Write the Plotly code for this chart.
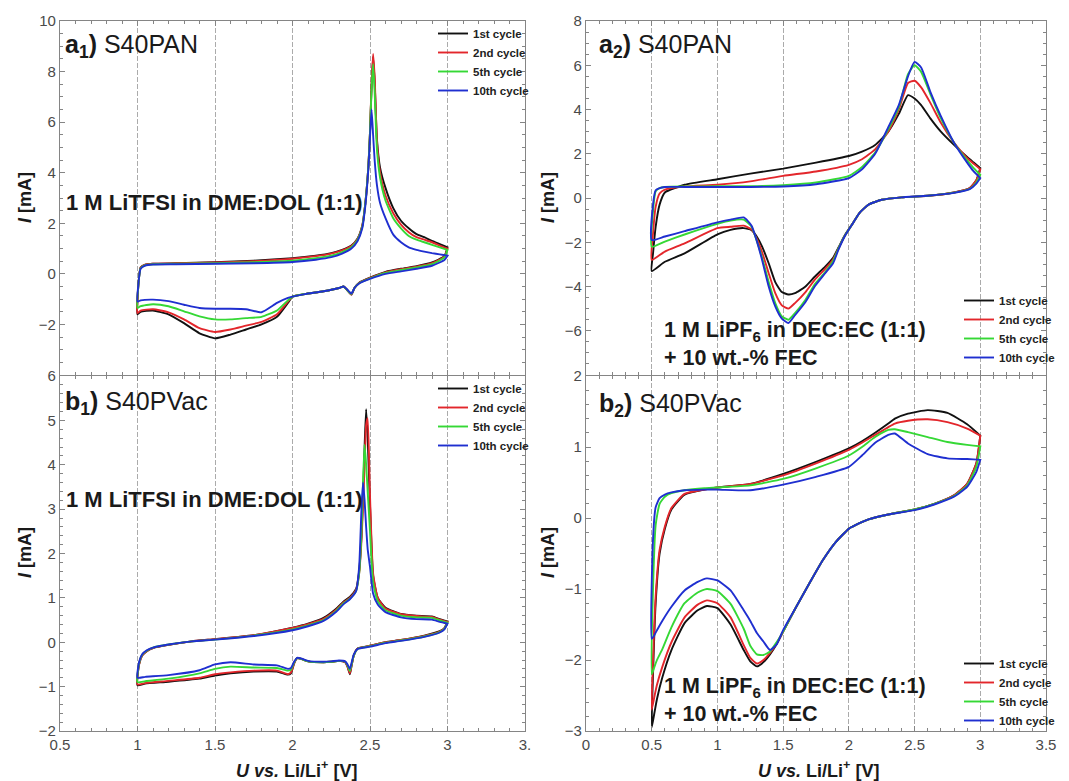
import plotly.graph_objects as go
from plotly.subplots import make_subplots

cycles = ["1st cycle", "2nd cycle", "5th cycle", "10th cycle"]
colors = ["#111111", "#e3262b", "#35d835", "#1f2fd0"]

# a1) S40PAN in 1 M LiTFSI / DME:DOL -- anodic sweep (1.0 -> 3.0 V)
a1_u_up = [1.0, 1.005, 1.02, 1.05, 1.1, 1.25, 1.5, 1.75, 2.0, 2.15, 2.25, 2.32, 2.38, 2.42, 2.45, 2.47,
           2.49, 2.5, 2.51, 2.52, 2.53, 2.545, 2.565, 2.6, 2.65, 2.7, 2.75, 2.8, 2.85, 2.9, 2.95, 3.0]
a1_up_1 = [-1.6, -0.5, 0.25, 0.36, 0.4, 0.42, 0.46, 0.52, 0.62, 0.72, 0.82, 0.95, 1.12, 1.4, 1.9, 2.8,
           4.3, 5.6, 7.4, 8.6, 7.6, 5.3, 4.2, 3.4, 2.6, 2.1, 1.8, 1.57, 1.45, 1.3, 1.18, 1.05]
a1_up_2 = [-1.55, -0.5, 0.25, 0.36, 0.4, 0.42, 0.45, 0.5, 0.6, 0.7, 0.8, 0.93, 1.1, 1.38, 1.9, 2.8,
           4.3, 5.6, 7.5, 8.7, 7.8, 5.2, 4.0, 3.1, 2.4, 1.95, 1.65, 1.45, 1.35, 1.25, 1.12, 1.0]
a1_up_5 = [-1.35, -0.5, 0.22, 0.34, 0.38, 0.4, 0.42, 0.46, 0.52, 0.62, 0.72, 0.86, 1.05, 1.35, 1.85, 2.8,
           4.3, 5.6, 7.3, 8.3, 7.2, 4.9, 3.8, 2.9, 2.2, 1.8, 1.5, 1.35, 1.25, 1.15, 1.05, 0.95]
a1_up_10 = [-1.1, -0.45, 0.2, 0.33, 0.37, 0.38, 0.4, 0.42, 0.47, 0.56, 0.66, 0.8, 1.0, 1.3, 1.8, 2.7,
            4.2, 5.4, 6.5, 5.5, 4.5, 3.5, 2.8, 2.2, 1.55, 1.25, 1.05, 0.95, 0.88, 0.82, 0.77, 0.72]
# cathodic sweep (3.0 -> 1.0 V)
a1_u_dn = [3.0, 2.98, 2.9, 2.8, 2.7, 2.6, 2.5, 2.43, 2.4, 2.38, 2.35, 2.33, 2.3, 2.2, 2.08, 2.0, 1.97,
           1.9, 1.8, 1.7, 1.6, 1.5, 1.4, 1.3, 1.2, 1.1, 1.02, 1.0]
a1_dn_1 = [1.05, 0.7, 0.45, 0.3, 0.2, 0.08, -0.15, -0.35, -0.55, -0.82, -0.62, -0.5, -0.56, -0.69, -0.8,
           -0.9, -1.15, -1.7, -2.0, -2.2, -2.4, -2.55, -2.35, -1.95, -1.6, -1.45, -1.5, -1.6]
a1_dn_2 = [1.0, 0.68, 0.42, 0.28, 0.18, 0.06, -0.16, -0.36, -0.56, -0.82, -0.62, -0.5, -0.56, -0.69, -0.8,
           -0.9, -1.1, -1.6, -1.9, -2.05, -2.2, -2.3, -2.15, -1.8, -1.52, -1.4, -1.45, -1.55]
a1_dn_5 = [0.95, 0.65, 0.38, 0.25, 0.15, 0.04, -0.18, -0.37, -0.56, -0.8, -0.62, -0.5, -0.56, -0.69, -0.8,
           -0.9, -1.05, -1.45, -1.7, -1.75, -1.8, -1.8, -1.68, -1.48, -1.28, -1.2, -1.28, -1.35]
a1_dn_10 = [0.72, 0.55, 0.32, 0.2, 0.1, 0.0, -0.2, -0.38, -0.56, -0.78, -0.6, -0.5, -0.56, -0.69, -0.8,
            -0.9, -0.95, -1.15, -1.52, -1.4, -1.38, -1.38, -1.35, -1.22, -1.08, -1.02, -1.05, -1.1]

# a2) S40PAN in 1 M LiPF6 / DEC:EC + FEC
a2_u_up = [0.5, 0.51, 0.53, 0.56, 0.6, 0.75, 1.0, 1.25, 1.5, 1.75, 2.0, 2.1, 2.2, 2.3, 2.38, 2.45, 2.5,
           2.55, 2.62, 2.7, 2.8, 2.9, 2.95, 3.0]
a2_up_1 = [-3.3, -2.5, -1.3, -0.3, 0.25, 0.6, 0.85, 1.1, 1.33, 1.6, 1.9, 2.1, 2.4, 3.0, 3.8, 4.65, 4.5,
           4.2, 3.6, 3.0, 2.4, 1.85, 1.6, 1.35]
a2_up_2 = [-2.8, -1.6, -0.4, 0.2, 0.38, 0.52, 0.6, 0.75, 1.0, 1.2, 1.5, 1.75, 2.2, 3.0, 4.0, 5.2, 5.3,
           5.0, 4.3, 3.4, 2.5, 1.8, 1.55, 1.3]
a2_up_5 = [-2.2, -0.6, 0.3, 0.45, 0.5, 0.52, 0.53, 0.53, 0.58, 0.7, 1.0, 1.4, 2.05, 3.1, 4.1, 5.6, 6.0,
           5.7, 4.7, 3.6, 2.5, 1.7, 1.35, 1.05]
a2_up_10 = [-1.9, -0.3, 0.35, 0.45, 0.5, 0.5, 0.5, 0.5, 0.52, 0.62, 0.9, 1.3, 2.0, 3.2, 4.2, 5.5, 6.15,
            5.9, 4.8, 3.7, 2.5, 1.6, 1.2, 0.9]
a2_u_dn = [3.0, 2.97, 2.92, 2.8, 2.6, 2.4, 2.25, 2.15, 2.08, 2.03, 1.97, 1.92, 1.88, 1.82, 1.74, 1.67,
           1.59, 1.54, 1.49, 1.44, 1.39, 1.34, 1.3, 1.26, 1.2, 1.1, 1.0, 0.75, 0.6, 0.5]
a2_dn_1 = [1.35, 0.8, 0.45, 0.25, 0.1, 0.03, -0.08, -0.3, -0.68, -1.14, -1.67, -2.25, -2.7, -3.1, -3.56,
           -4.0, -4.3, -4.36, -4.25, -3.8, -2.95, -2.2, -1.75, -1.45, -1.36, -1.44, -1.64, -2.5, -2.88, -3.3]
a2_dn_2 = [1.3, 0.8, 0.45, 0.25, 0.1, 0.03, -0.08, -0.3, -0.68, -1.15, -1.7, -2.3, -2.78, -3.2, -3.7,
           -4.25, -4.75, -5.0, -4.85, -4.3, -3.4, -2.45, -1.85, -1.42, -1.25, -1.3, -1.36, -2.05, -2.42, -2.8]
a2_dn_5 = [1.05, 0.7, 0.42, 0.24, 0.1, 0.03, -0.08, -0.3, -0.68, -1.15, -1.7, -2.3, -2.85, -3.35, -3.9,
           -4.6, -5.2, -5.5, -5.35, -4.75, -3.8, -2.7, -1.95, -1.3, -0.98, -1.02, -1.17, -1.65, -1.97, -2.2]
a2_dn_10 = [0.9, 0.65, 0.4, 0.23, 0.1, 0.03, -0.08, -0.3, -0.68, -1.15, -1.72, -2.35, -2.95, -3.4, -4.0,
            -4.7, -5.3, -5.65, -5.45, -4.9, -4.0, -2.8, -1.95, -1.25, -0.88, -0.98, -1.1, -1.5, -1.74, -1.9]

# b1) S40PVac in 1 M LiTFSI / DME:DOL
b1_u_up = [1.0, 1.01, 1.03, 1.06, 1.1, 1.2, 1.35, 1.5, 1.75, 2.0, 2.1, 2.2, 2.28, 2.33, 2.37, 2.41, 2.43,
           2.445, 2.455, 2.465, 2.475, 2.485, 2.5, 2.52, 2.55, 2.6, 2.7, 2.8, 2.9, 2.95, 3.0]
b1_up_1 = [-0.97, -0.5, -0.3, -0.2, -0.13, -0.06, 0.02, 0.07, 0.16, 0.33, 0.42, 0.55, 0.75, 0.92, 1.02,
           1.2, 1.6, 2.4, 3.3, 4.4, 5.25, 4.6, 3.1, 1.5, 1.0, 0.78, 0.64, 0.6, 0.58, 0.52, 0.47]
b1_up_2 = [-0.95, -0.5, -0.3, -0.2, -0.13, -0.06, 0.02, 0.07, 0.16, 0.32, 0.41, 0.53, 0.73, 0.9, 1.0,
           1.18, 1.55, 2.3, 3.1, 4.0, 4.9, 5.05, 3.3, 1.55, 1.0, 0.76, 0.63, 0.59, 0.57, 0.51, 0.46]
b1_up_5 = [-0.9, -0.48, -0.28, -0.19, -0.12, -0.05, 0.02, 0.06, 0.15, 0.29, 0.38, 0.5, 0.7, 0.88, 0.98,
           1.15, 1.55, 2.5, 3.6, 4.45, 4.0, 3.4, 2.5, 1.35, 0.92, 0.72, 0.6, 0.56, 0.55, 0.49, 0.44]
b1_up_10 = [-0.8, -0.45, -0.27, -0.18, -0.12, -0.05, 0.02, 0.06, 0.14, 0.27, 0.36, 0.48, 0.68, 0.86, 0.97,
            1.15, 1.7, 3.0, 3.6, 3.2, 2.6, 2.1, 1.7, 1.1, 0.85, 0.68, 0.56, 0.52, 0.51, 0.46, 0.42]
b1_u_dn = [3.0, 2.98, 2.95, 2.85, 2.7, 2.6, 2.5, 2.42, 2.395, 2.38, 2.37, 2.355, 2.34, 2.3, 2.25, 2.2,
           2.1, 2.05, 2.03, 2.01, 1.99, 1.97, 1.9, 1.75, 1.6, 1.5, 1.4, 1.2, 1.05, 1.0]
b1_dn_1 = [0.47, 0.32, 0.25, 0.15, 0.05, 0.0, -0.08, -0.14, -0.3, -0.55, -0.72, -0.55, -0.45, -0.42, -0.44,
           -0.45, -0.43, -0.37, -0.36, -0.48, -0.7, -0.73, -0.66, -0.66, -0.7, -0.75, -0.82, -0.89, -0.93, -0.97]
b1_dn_2 = [0.46, 0.31, 0.24, 0.14, 0.05, 0.0, -0.08, -0.14, -0.3, -0.55, -0.7, -0.55, -0.45, -0.42, -0.44,
           -0.45, -0.43, -0.37, -0.36, -0.48, -0.68, -0.72, -0.64, -0.64, -0.68, -0.72, -0.8, -0.87, -0.92, -0.95]
b1_dn_5 = [0.44, 0.3, 0.23, 0.13, 0.04, -0.01, -0.09, -0.15, -0.3, -0.52, -0.65, -0.52, -0.44, -0.42, -0.44,
           -0.45, -0.43, -0.37, -0.36, -0.46, -0.62, -0.64, -0.58, -0.57, -0.55, -0.6, -0.7, -0.82, -0.88, -0.9]
b1_dn_10 = [0.42, 0.29, 0.22, 0.12, 0.03, -0.02, -0.1, -0.15, -0.28, -0.48, -0.6, -0.5, -0.43, -0.41, -0.43,
            -0.44, -0.42, -0.36, -0.35, -0.44, -0.58, -0.6, -0.52, -0.5, -0.45, -0.5, -0.63, -0.74, -0.78, -0.8]

# b2) S40PVac in 1 M LiPF6 / DEC:EC + FEC
b2_u_up = [0.5, 0.51, 0.53, 0.56, 0.6, 0.65, 0.75, 0.9, 1.0, 1.25, 1.5, 1.75, 2.0, 2.1, 2.2, 2.3, 2.35,
           2.45, 2.6, 2.75, 2.9, 3.0]
b2_up_1 = [-2.95, -2.2, -1.2, -0.5, -0.15, 0.12, 0.33, 0.4, 0.43, 0.48, 0.62, 0.79, 0.98, 1.08, 1.2, 1.33,
           1.4, 1.47, 1.52, 1.48, 1.32, 1.16]
b2_up_2 = [-2.7, -2.0, -1.1, -0.45, -0.12, 0.14, 0.34, 0.4, 0.43, 0.48, 0.6, 0.77, 0.96, 1.06, 1.17, 1.28,
           1.33, 1.37, 1.39, 1.35, 1.26, 1.16]
b2_up_5 = [-2.2, -1.0, -0.1, 0.2, 0.3, 0.35, 0.39, 0.42, 0.43, 0.46, 0.55, 0.7, 0.88, 1.0, 1.14, 1.24,
           1.25, 1.21, 1.14, 1.07, 1.03, 1.01]
b2_up_10 = [-1.7, -0.3, 0.15, 0.28, 0.33, 0.36, 0.39, 0.4, 0.4, 0.39, 0.47, 0.58, 0.72, 0.88, 1.06, 1.17,
            1.19, 1.05, 0.9, 0.84, 0.83, 0.82]
b2_u_dn = [3.0, 2.97, 2.9, 2.8, 2.65, 2.5, 2.3, 2.15, 2.05, 2.0, 1.9, 1.8, 1.7, 1.6, 1.5, 1.45, 1.4, 1.35,
           1.3, 1.25, 1.2, 1.1, 1.0, 0.92, 0.85, 0.75, 0.65, 0.58, 0.54, 0.52, 0.5]
b2_dn_1 = [1.16, 0.77, 0.48, 0.32, 0.2, 0.12, 0.05, -0.02, -0.1, -0.15, -0.34, -0.6, -0.92, -1.25, -1.6,
           -1.78, -1.92, -2.03, -2.09, -2.02, -1.86, -1.5, -1.27, -1.24, -1.3, -1.48, -1.86, -2.25, -2.55,
           -2.75, -2.95]
b2_dn_2 = [1.16, 0.77, 0.48, 0.32, 0.2, 0.12, 0.05, -0.02, -0.1, -0.15, -0.34, -0.6, -0.92, -1.25, -1.6,
           -1.77, -1.9, -2.0, -2.05, -1.97, -1.79, -1.4, -1.2, -1.16, -1.22, -1.4, -1.75, -2.1, -2.35,
           -2.52, -2.7]
b2_dn_5 = [1.01, 0.72, 0.46, 0.31, 0.2, 0.12, 0.05, -0.02, -0.1, -0.15, -0.34, -0.6, -0.92, -1.25, -1.6,
           -1.75, -1.88, -1.93, -1.92, -1.8, -1.56, -1.21, -1.03, -1.0, -1.05, -1.2, -1.54, -1.85, -2.0,
           -2.1, -2.2]
b2_dn_10 = [0.82, 0.65, 0.44, 0.3, 0.19, 0.11, 0.05, -0.02, -0.1, -0.15, -0.34, -0.6, -0.92, -1.25, -1.58,
            -1.78, -1.86, -1.74, -1.62, -1.45, -1.3, -1.02, -0.88, -0.85, -0.9, -1.02, -1.25, -1.45, -1.58,
            -1.65, -1.7]

left_ticks = [0.5, 1, 1.5, 2, 2.5, 3, 3.5]
left_ticktext = ["0.5", "1", "1.5", "2", "2.5", "3", "3."]
right_ticks = [0, 0.5, 1, 1.5, 2, 2.5, 3, 3.5]
right_ticktext = ["0", "0.5", "1", "1.5", "2", "2.5", "3", "3.5"]

FONT = "Arial, Liberation Sans, sans-serif"
W, H = 1069, 781
PAGE_PAD = 8  # the page body margin shifts the figure by 8 px

fig = make_subplots(rows=2, cols=2)

panels = [
    (1, 1, "legend", a1_u_up, a1_u_dn, [a1_up_1, a1_up_2, a1_up_5, a1_up_10], [a1_dn_1, a1_dn_2, a1_dn_5, a1_dn_10]),
    (1, 2, "legend2", a2_u_up, a2_u_dn, [a2_up_1, a2_up_2, a2_up_5, a2_up_10], [a2_dn_1, a2_dn_2, a2_dn_5, a2_dn_10]),
    (2, 1, "legend3", b1_u_up, b1_u_dn, [b1_up_1, b1_up_2, b1_up_5, b1_up_10], [b1_dn_1, b1_dn_2, b1_dn_5, b1_dn_10]),
    (2, 2, "legend4", b2_u_up, b2_u_dn, [b2_up_1, b2_up_2, b2_up_5, b2_up_10], [b2_dn_1, b2_dn_2, b2_dn_5, b2_dn_10]),
]
for row, col, leg, u_up, u_dn, ups, dns in panels:
    for name, color, up, dn in zip(cycles, colors, ups, dns):
        fig.add_trace(go.Scatter(x=u_up + u_dn, y=up + dn, mode="lines", name=name, legend=leg,
                                 line=dict(color=color, width=1.9, shape="spline", smoothing=0.5)),
                      row=row, col=col)

# pixel helpers for layout only (screen pixels -> paper fraction)
def px_x(p):
    return (p - PAGE_PAD) / W

def px_y(p):
    return 1 - (p - PAGE_PAD) / H

axis_common = dict(showline=True, linecolor="#858585", linewidth=1.2, mirror="allticks",
                   ticks="inside", ticklen=5, tickcolor="#858585", zeroline=False, automargin=False,
                   tickfont=dict(family=FONT, size=15, color="#4a4a4a"))
xgrid = dict(showgrid=True, gridcolor="#ababab", gridwidth=1, griddash="5px,2px",
             minor=dict(dtick=0.1, ticks="inside", ticklen=3, tickcolor="#858585", showgrid=False))

xl = [px_x(60), px_x(525)]
xr = [px_x(586), px_x(1046)]
yt = [px_y(375), px_y(21)]
yb = [px_y(731), px_y(376)]

fig.update_layout(
    xaxis=dict(domain=xl, range=[0.5, 3.5], tickvals=left_ticks, showticklabels=False, **xgrid, **axis_common),
    xaxis2=dict(domain=xr, range=[0, 3.5], tickvals=right_ticks, showticklabels=False, **xgrid, **axis_common),
    xaxis3=dict(domain=xl, range=[0.5, 3.5], tickvals=left_ticks, ticktext=left_ticktext, **xgrid, **axis_common),
    xaxis4=dict(domain=xr, range=[0, 3.5], tickvals=right_ticks, ticktext=right_ticktext, **xgrid, **axis_common),
    yaxis=dict(domain=yt, range=[-4, 10], tickvals=[-2, 0, 2, 4, 6, 8, 10], showgrid=False,
               minor=dict(dtick=0.5, ticks="inside", ticklen=3, tickcolor="#858585"), **axis_common),
    yaxis2=dict(domain=yt, range=[-8, 8], tickvals=[-6, -4, -2, 0, 2, 4, 6, 8], showgrid=False,
                minor=dict(dtick=0.5, ticks="inside", ticklen=3, tickcolor="#858585"), **axis_common),
    yaxis3=dict(domain=yb, range=[-2, 6], dtick=1, showgrid=False,
                minor=dict(dtick=0.2, ticks="inside", ticklen=3, tickcolor="#858585"), **axis_common),
    yaxis4=dict(domain=yb, range=[-3, 2], dtick=1, showgrid=False,
                minor=dict(dtick=0.2, ticks="inside", ticklen=3, tickcolor="#858585"), **axis_common),
)

leg_style = dict(font=dict(family=FONT, size=11.5, color="#222", weight="bold"), bgcolor="rgba(0,0,0,0)",
                 xanchor="right", yanchor="middle", itemwidth=30, tracegroupgap=0)
fig.update_layout(
    legend=dict(x=px_x(534), y=px_y(62), **leg_style),
    legend2=dict(x=px_x(1060), y=px_y(329), **leg_style),
    legend3=dict(x=px_x(534), y=px_y(417), **leg_style),
    legend4=dict(x=px_x(1060), y=px_y(692), **leg_style),
)

def label(x, y, text, size, angle=0, anchor="left"):
    fig.add_annotation(x=px_x(x), y=px_y(y), xref="paper", yref="paper", text=text, showarrow=False,
                       xanchor=anchor, yanchor="middle", align="left", textangle=angle,
                       font=dict(family=FONT, size=size, color="#1a1a1a"))

label(63, 46, "<b>a<sub>1</sub>)</b> S40PAN", 25)
label(597, 46, "<b>a<sub>2</sub>)</b> S40PAN", 25)
label(63, 403, "<b>b<sub>1</sub>)</b> S40PVac", 25)
label(597, 405, "<b>b<sub>2</sub>)</b> S40PVac", 25)
label(64, 202, "<b>1 M LiTFSI in DME:DOL (1:1)</b>", 22)
label(64, 499, "<b>1 M LiTFSI in DME:DOL (1:1)</b>", 22)
label(662, 344, "<b>1 M LiPF<sub>6</sub> in DEC:EC (1:1)<br>+ 10 wt.-% FEC</b>", 21.5)
label(662, 700, "<b>1 M LiPF<sub>6</sub> in DEC:EC (1:1)<br>+ 10 wt.-% FEC</b>", 21.5)

# axis titles
ytxt = "<b><i>I</i> [mA]</b>"
xtxt = "<b><i>U vs.</i> Li/Li<sup>+</sup> [V]</b>"
for x, y in [(25, 198), (548, 198), (25, 553), (548, 553)]:
    label(x, y, ytxt, 18, angle=-90, anchor="center")
for x in [296, 818]:
    label(x, 769, xtxt, 18, anchor="center")

fig.update_layout(width=W, height=H, margin=dict(l=0, r=0, t=0, b=0),
                  plot_bgcolor="white", paper_bgcolor="white", font=dict(family=FONT))

fig.write_html("out.html")
